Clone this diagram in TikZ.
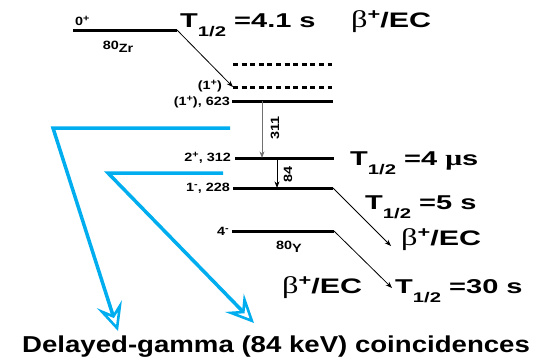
\documentclass[tikz,border=0pt]{standalone}
\usepackage{fontspec}
\setmainfont{Liberation Sans}
\newfontfamily\lblfont[FakeStretch=1.2]{Liberation Sans}
\newfontfamily\halffont[FakeStretch=1.45]{Liberation Sans}
\newfontfamily\capfont[FakeStretch=1.2]{Liberation Sans}
\newfontfamily\grkfont[FakeStretch=1.35]{Liberation Serif}
\usetikzlibrary{arrows.meta}
\definecolor{cyanD}{HTML}{00AEEF}
\definecolor{greyA}{HTML}{707070}
\newcommand{\thalf}[1]{{\halffont\bfseries\fontsize{20}{20}\selectfont T\raisebox{-9pt}{\fontsize{14}{14}\selectfont 1/2} =#1}}
\newcommand{\betaEC}{{\grkfont\fontsize{24}{24}\selectfont β}\raisebox{8pt}{\halffont\bfseries\fontsize{15}{15}\selectfont +}{\halffont\bfseries\fontsize{21}{21}\selectfont /EC}}
\newcommand{\musym}{{\grkfont\fontsize{22}{22}\selectfont μ}}
\newcommand{\spin}[1]{\raisebox{4pt}{\fontsize{9}{9}\selectfont #1}}

\begin{document}
\begin{tikzpicture}[x=1pt,y=-1pt,>=Stealth,
  lvl/.style={line width=3pt},
  lvldash/.style={line width=3pt,dash pattern=on 5pt off 3.6pt},
  decay/.style={->,line width=0.8pt},
  coinc/.style={cyanD,line width=3.5pt,-{Stealth[open,length=28pt,width=26pt,inset=11pt,line width=2.6pt]}},
  lbl/.style={inner sep=0pt,font=\lblfont\bfseries\fontsize{12}{12}\selectfont},
  bigtxt/.style={inner sep=0pt,anchor=base west}]
  \useasboundingbox (0,0) rectangle (545,362);

  \coordinate (zrL) at (73,30);   \coordinate (zrR) at (177,30);
  \coordinate (dAL) at (233,64);  \coordinate (dAR) at (332,64);
  \coordinate (dBL) at (233,87);  \coordinate (dBR) at (332,87);
  \coordinate (e623L) at (232,101); \coordinate (e623R) at (333,101);
  \coordinate (e312L) at (235,158); \coordinate (e312R) at (334,158);
  \coordinate (e228L) at (233,188); \coordinate (e228R) at (333,188);
  \coordinate (yL) at (232,231);  \coordinate (yR) at (334,231);
  \coordinate (g311t) at (262,101); \coordinate (g311b) at (262,158);
  \coordinate (g84t) at (277,158);  \coordinate (g84b) at (277,188);
  \coordinate (betaA) at (391,246); \coordinate (betaB) at (392,288);
  \coordinate (c1a) at (230,128); \coordinate (c1b) at (53,128); \coordinate (c1tip) at (118,331);
  \coordinate (c2a) at (223,173); \coordinate (c2b) at (108,173); \coordinate (c2tip) at (254,323);

  \draw[lvl] (zrL) -- (zrR);
  \draw[lvldash] (dAL) -- (dAR);
  \draw[lvldash] (dBL) -- (dBR);
  \draw[lvl] (e623L) -- (e623R);
  \draw[lvl] (e312L) -- (e312R);
  \draw[lvl] (e228L) -- (e228R);
  \draw[lvl] (yL) -- (yR);

  \draw[decay] (zrR) -- (dBL);
  \draw[decay,greyA] (g311t) -- (g311b);
  \draw[decay] (g84t) -- (g84b);
  \draw[decay] (e228R) -- (betaA);
  \draw[decay] (yR) -- (betaB);

  \draw[coinc] (c1a) -- (c1b) -- (c1tip);
  \draw[coinc] (c2a) -- (c2b) -- (c2tip);

  \node[lbl,anchor=base west] (zrspin) at (75,25) {0\spin{+}};
  \node[lbl] (zrname) at (118,47) {80\raisebox{-3pt}{Zr}};
  \node[lbl,anchor=base east] (s1a) at (222,89) {(1\spin{+})};
  \node[lbl,anchor=east] (s623) at (230,102) {(1\spin{+}), 623};
  \node[lbl,anchor=east] (s312) at (231,158) {2\spin{+}, 312};
  \node[lbl,anchor=east] (s228) at (230,188) {1\spin{-}, 228};
  \node[lbl,anchor=east] (s4) at (229,231) {4\spin{-}};
  \node[lbl] (yname) at (289,247) {80\raisebox{-3pt}{Y}};
  \node[lbl,rotate=90] (l311) at (275,128) {311};
  \node[lbl,rotate=90] (l84) at (288,174) {84};

  \node[bigtxt] (tzr) at (180,27) {\thalf{4.1 s}};
  \node[bigtxt] (bzr) at (351,27) {\betaEC};
  \node[bigtxt] (tmu) at (350,165) {\thalf{4 \musym s}};
  \node[bigtxt] (tfive) at (365,209) {\thalf{5 s}};
  \node[bigtxt] (bya) at (401,245) {\betaEC};
  \node[bigtxt] (byb) at (282,293) {\betaEC};
  \node[bigtxt] (tthirty) at (395,293) {\thalf{30 s}};
  \node[bigtxt] (cap) at (22,352) {\capfont\bfseries\fontsize{23}{23}\selectfont Delayed-gamma (84 keV) coincidences};
\end{tikzpicture}
\end{document}
